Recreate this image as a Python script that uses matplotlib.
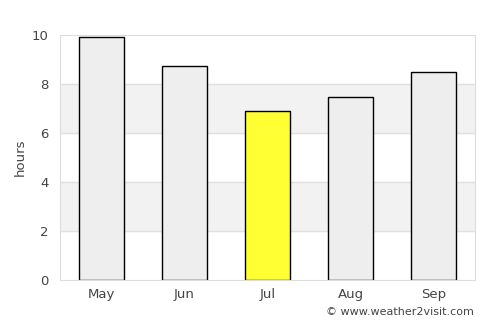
import matplotlib.pyplot as plt

months = ["May", "Jun", "Jul", "Aug", "Sep"]
hours = [9.9, 8.73, 6.9, 7.47, 8.49]
colors = ["#eeeeee", "#eeeeee", "#ffff33", "#eeeeee", "#eeeeee"]

fig = plt.figure(figsize=(5, 3.25), dpi=100)
ax = fig.add_axes([60 / 500, 45 / 325, 415 / 500, 245 / 325])

# alternating background bands
for lo in [2, 6]:
    ax.axhspan(lo, lo + 2, color="#f2f2f2", zorder=0)
for y in [2, 4, 6, 8]:
    ax.axhline(y, color="#e0e0e0", lw=1, zorder=1)

ax.bar(range(len(months)), hours, width=0.54, color=colors,
       edgecolor="black", linewidth=1, zorder=2)

ax.set_xlim(-0.5, len(months) - 0.5)
ax.set_ylim(0, 10)
ax.set_yticks([0, 2, 4, 6, 8, 10])
ax.set_xticks(range(len(months)))
ax.set_xticklabels(months)
ax.set_ylabel("hours", color="#444444", fontsize=9.5)
ax.tick_params(colors="#444444", labelsize=9.5, length=0)
ax.tick_params(axis="y", pad=8)
ax.tick_params(axis="x", pad=6)
for s in ax.spines.values():
    s.set_color("#dddddd")

fig.text(474 / 500, 8 / 325, "\u00a9 www.weather2visit.com", ha="right",
         va="bottom", fontsize=8, color="#444444")

fig.savefig("out.png", dpi=100)
